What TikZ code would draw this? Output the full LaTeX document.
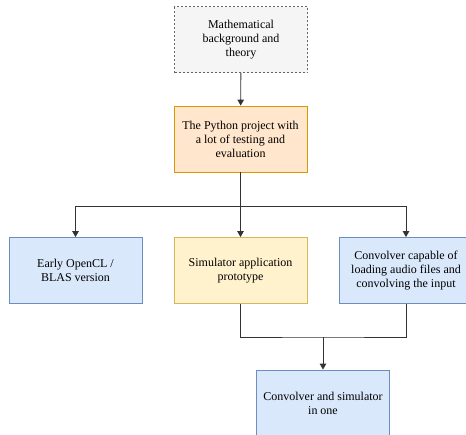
\documentclass[tikz,border=0pt]{standalone}
\usepackage{fontspec}
\setmainfont{Liberation Serif}
\usetikzlibrary{arrows.meta}
\definecolor{grayfill}{HTML}{F5F5F5}
\definecolor{graydraw}{HTML}{666666}
\definecolor{orangefill}{HTML}{FFE6CC}
\definecolor{orangedraw}{HTML}{D79B00}
\definecolor{bluefill}{HTML}{DAE8FC}
\definecolor{bluedraw}{HTML}{6C8EBF}
\definecolor{yellowfill}{HTML}{FFF2CC}
\definecolor{yellowdraw}{HTML}{D6B656}
\tikzset{
  box/.style={rectangle, minimum width=133pt, minimum height=66pt, inner sep=0pt,
    align=center, font=\rmfamily\fontsize{12}{14}\selectfont, line width=0.8pt},
  graybox/.style={box, fill=grayfill, draw=graydraw, dashed, dash pattern=on 2pt off 2pt},
  orangebox/.style={box, fill=orangefill, draw=orangedraw},
  bluebox/.style={box, fill=bluefill, draw=bluedraw},
  yellowbox/.style={box, fill=yellowfill, draw=yellowdraw},
  link/.style={draw=black!80, line width=0.9pt},
  arrow/.style={link, -{Triangle[length=6pt,width=6.5pt]}}
}
\begin{document}
\begin{tikzpicture}[x=1pt,y=-1pt]
\useasboundingbox (0,0) rectangle (466,434);
\clip (0,0) rectangle (466,434);
\node[graybox] (theory) at (241,39.5) {Mathematical\\background and\\theory};
\node[orangebox] (python) at (240.5,139) {The Python project with\\a lot of testing and\\evaluation};
\node[bluebox] (opencl) at (75.5,270.5) {Early OpenCL /\\BLAS version};
\node[yellowbox] (sim) at (240.5,270.5) {Simulator application\\prototype};
\node[bluebox] (conv) at (406,270.5) {Convolver capable of\\loading audio files and\\convolving the input};
\node[bluebox] (both) at (323,403) {Convolver and simulator\\in one};
\coordinate (split) at (240.5,206);
\coordinate (join) at (323,337);
\draw[arrow] (theory) -- (python);
\draw[link] (python) -- (split);
\draw[arrow] (split) -| (opencl);
\draw[arrow] (split) -- (sim);
\draw[arrow] (split) -| (conv);
\draw[link] (sim.south) |- (join) -| (conv.south);
\draw[arrow] (join) -- (both);
\end{tikzpicture}
\end{document}
